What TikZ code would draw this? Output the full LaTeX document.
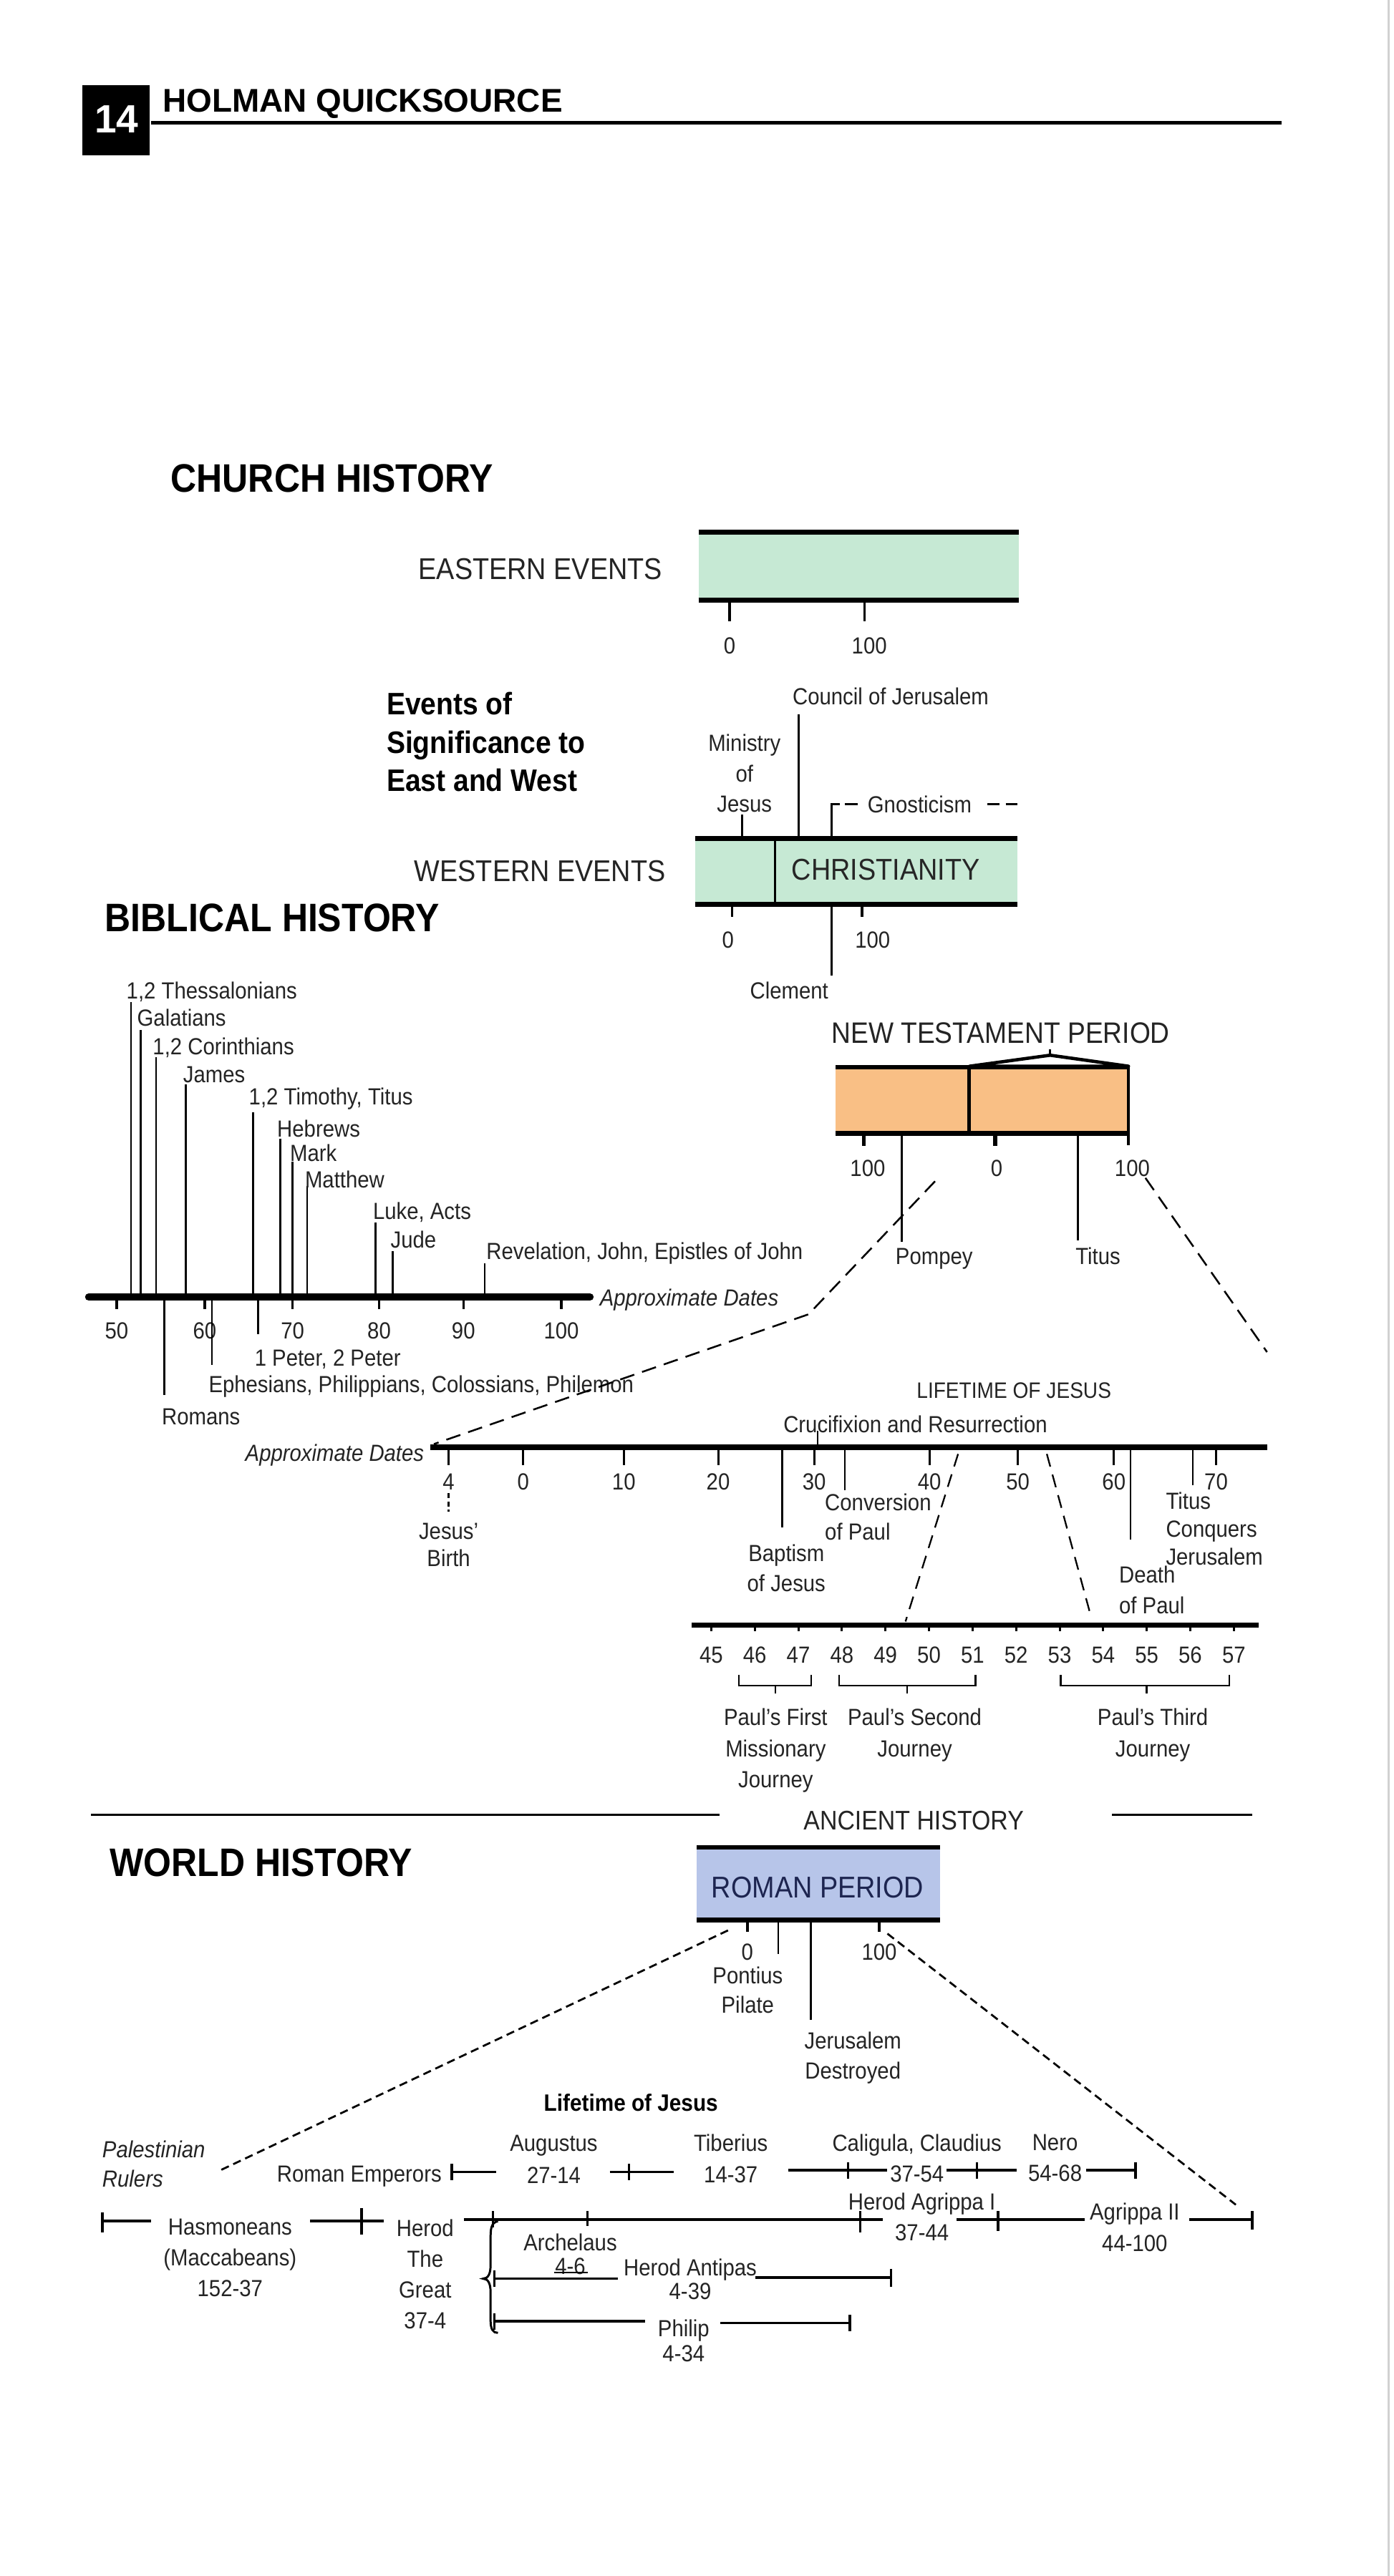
\documentclass[tikz,border=0pt]{standalone}
\usepackage{fontspec}
\setmainfont{Liberation Sans}[FakeStretch=0.9]
\newfontfamily\plainf{Liberation Sans}
\definecolor{tc}{HTML}{242424}
\definecolor{greenfill}{HTML}{C6E9D4}
\definecolor{orangefill}{HTML}{F9BF85}
\definecolor{bluefill}{HTML}{B7C5E9}
\definecolor{navy}{HTML}{1D2550}
\tikzset{
  every node/.style={inner sep=0pt, outer sep=0pt, text=tc},
  sm/.style={font=\fontsize{14.2}{#1}\selectfont},
  sm/.default={18.5},
  smi/.style={font=\fontsize{14.2}{#1}\selectfont\itshape},
  smi/.default={18},
  md/.style={font=\fontsize{18.3}{22}\selectfont},
  hd/.style={font=\fontsize{24.2}{28}\selectfont\bfseries, text=black},
  thin/.style={line width=1.1pt},
  tick/.style={line width=1.5pt},
  bar/.style={line width=3pt},
  zoomdash/.style={line width=1.1pt, dash pattern=on 9pt off 5pt},
  smalldash/.style={line width=1pt, dash pattern=on 8pt off 5pt},
  romandash/.style={line width=1.2pt, dash pattern=on 5pt off 3pt},
}
\begin{document}
\begin{tikzpicture}[x=1pt,y=-1pt]
\useasboundingbox (0,0) rectangle (848,1568);
\fill[white] (0,0) rectangle (848,1568);
\draw[black!18, line width=1pt] (845,0) -- (845,1568);

% ---------- header ----------
\fill[black] (50,52) rectangle (91,94.5);
\node[font=\fontsize{24}{26}\selectfont\plainf\bfseries, text=white, anchor=base] (num) at (71,81) {14};
\node[font=\fontsize{20}{24}\selectfont\plainf\bfseries, text=black, anchor=base west] (title) at (99,68) {HOLMAN QUICKSOURCE};
\draw[line width=2pt] (92,74.7) -- (780,74.7);

% ---------- church history ----------
\node[hd, anchor=base west] (church) at (104,299.5) {CHURCH HISTORY};
\node[md, anchor=base east] (east) at (403,352.5) {EASTERN EVENTS};
\fill[greenfill] (425,324) rectangle (620,365.5);
\draw[bar] (425,324) -- (620,324);
\draw[bar] (425,365.5) -- (620,365.5);
\draw[tick] (444,367) -- (444,378);
\draw[tick] (526,367) -- (526,378);
\node[sm, anchor=base] (e0) at (444,398) {0};
\node[sm, anchor=base] (e100) at (529,398) {100};

\node[font=\fontsize{18.9}{23.3}\selectfont\bfseries, text=black, anchor=north west, align=left] (sig) at (235.3,421.5) {Events of\\Significance to\\East and West};
\node[sm, anchor=base] (council) at (542,429) {Council of Jerusalem};
\draw[thin] (486,435) -- (486,510);
\node[sm, anchor=north, align=center] (ministry) at (453,447) {Ministry\\of\\Jesus};
\draw[thin] (451.5,496) -- (451.5,510);
\draw[thin] (506,510) -- (506,489.5) -- (511,489.5);
\draw[thin] (514,489.5) -- (522,489.5);
\node[sm, anchor=base west] (gnost) at (528,494.5) {Gnosticism};
\draw[thin] (601,489.5) -- (608,489.5);
\draw[thin] (612,489.5) -- (619,489.5);

\node[md, anchor=base east] (west) at (405,536.5) {WESTERN EVENTS};
\fill[greenfill] (423,510.5) rectangle (619,550.5);
\draw[bar] (423,510.5) -- (619,510.5);
\draw[bar] (423,550.5) -- (619,550.5);
\draw[line width=1.3pt] (471.5,510.5) -- (471.5,550.5);
\node[md, anchor=base, text=black!85] (christ) at (539,535.5) {CHRISTIANITY};
\draw[tick] (445.5,552) -- (445.5,558);
\draw[tick] (524.6,552) -- (524.6,558);
\node[sm, anchor=base] (w0) at (443,577) {0};
\node[sm, anchor=base] (w100) at (531,577) {100};
\draw[thin] (506,552) -- (506,594);
\node[sm, anchor=base east] (clement) at (504,608) {Clement};

% ---------- biblical history ----------
\node[hd, anchor=base west] (bib) at (64,567) {BIBLICAL HISTORY};
\draw[line width=4.5pt, line cap=round] (54,789.5) -- (359,789.5);
\foreach \x/\l in {71/50,124.6/60,178/70,230.7/80,282/90,341.6/100} {
  \draw[tick] (\x,790) -- (\x,797);
  \node[sm, anchor=base] at (\x,815) {\l};
}
\foreach \x/\t in {79.8/610,85.5/627,95/643.6,113/660,154/677,170.5/693,178/707,187/722,228.5/744,239/761.6,295/769} {
  \draw[thin] (\x,\t) -- (\x,789.5);
}
\node[sm, anchor=base west] (thess) at (77,608) {1,2 Thessalonians};
\node[sm, anchor=base west] (gal) at (83.5,624.5) {Galatians};
\node[sm, anchor=base west] (cor) at (93,642) {1,2 Corinthians};
\node[sm, anchor=base west] (james) at (111.5,659) {James};
\node[sm, anchor=base west] (tim) at (151.5,672.5) {1,2 Timothy, Titus};
\node[sm, anchor=base west] (heb) at (168.7,692) {Hebrews};
\node[sm, anchor=base west] (mark) at (176.5,707) {Mark};
\node[sm, anchor=base west] (matt) at (185.6,723) {Matthew};
\node[sm, anchor=base west] (luke) at (227,742) {Luke, Acts};
\node[sm, anchor=base west] (jude) at (237.7,759.5) {Jude};
\node[sm, anchor=base west] (rev) at (296,766.5) {Revelation, John, Epistles of John};
\draw[thin] (100,789.5) -- (100,849);
\draw[thin] (129,789.5) -- (129,831);
\draw[thin] (157,789.5) -- (157,812);
\node[sm, anchor=base west] (romans) at (98.5,867) {Romans};
\node[sm, anchor=base west] (eph) at (127,847.5) {Ephesians, Philippians, Colossians, Philemon};
\node[sm, anchor=base west] (peter) at (155,831.5) {1 Peter, 2 Peter};
\node[smi, anchor=base west] (approx1) at (365,795) {Approximate Dates};

% ---------- new testament period ----------
\node[font=\fontsize{18}{22}\selectfont, anchor=base west] (ntp) at (506,635) {NEW TESTAMENT PERIOD};
\fill[orangefill] (508.5,649.5) rectangle (686.7,690);
\draw[line width=2.5pt] (508.5,649.5) -- (686.7,649.5);
\draw[bar] (508.5,690) -- (686.7,690);
\draw[line width=1.8pt] (686.7,648.5) -- (686.7,697);
\draw[line width=2.2pt] (589.8,649.5) -- (589.8,690);
\draw[line width=2pt, fill=white, line join=round] (590,649) -- (639,642.3) -- (686.7,649) -- cycle;
\draw[line width=1.3pt] (639,642.3) -- (639,638.5);
\draw[line width=2.5pt] (525.6,690) -- (525.6,697.7);
\draw[line width=2.5pt] (605.5,690) -- (605.5,697.7);
\node[sm, anchor=base] (nt100a) at (528,716) {100};
\node[sm, anchor=base] (nt0) at (606.5,716) {0};
\node[sm, anchor=base] (nt100b) at (689,716) {100};
\draw[thin] (548.7,690) -- (548.7,756);
\node[sm, anchor=base west] (pompey) at (545,769.5) {Pompey};
\draw[thin] (656,690) -- (656,755);
\node[sm, anchor=base west] (titus) at (654.5,769.5) {Titus};
\draw[zoomdash] (569,719) -- (492,800) -- (264,879);
\draw[zoomdash] (697,717) -- (771,823);

% ---------- lifetime of Jesus ----------
\node[font=\fontsize{13.6}{16}\selectfont, anchor=base] (ljesus) at (617,851) {LIFETIME OF JESUS};
\node[sm, anchor=base] (cruc) at (557,872) {Crucifixion and Resurrection};
\draw[thin] (497.6,871) -- (497.6,881);
\draw[line width=3.5pt] (262,881) -- (771,881);
\foreach \x/\l in {273/4,318.4/0,379.6/10,437/20,495.4/30,565.6/40,619.4/50,677.8/60,740/70} {
  \draw[line width=1.3pt] (\x,881) -- (\x,892);
  \node[sm, anchor=base] at (\x,907) {\l};
}
\draw[line width=1pt, dash pattern=on 3pt off 2pt] (273,909) -- (273,920);
\node[smi, anchor=base east] (approx2) at (258,889.5) {Approximate Dates};
\node[sm=16.5, anchor=north, align=center] (birth) at (273,927) {Jesus'\\Birth};
\draw[thin] (476,881) -- (476,929.6);
\node[sm, anchor=north, align=center] (baptism) at (478.5,940) {Baptism\\of Jesus};
\draw[thin] (514,881) -- (514,907);
\node[sm=18, anchor=north west, align=left] (conv) at (502,909) {Conversion\\of Paul};
\draw[thin] (688,881) -- (688,937);
\node[sm=19, anchor=north west, align=left] (death) at (681,953) {Death\\of Paul};
\draw[thin] (725.8,881) -- (725.8,904);
\node[sm=17, anchor=north west, align=left] (conquer) at (709.5,908.5) {Titus\\Conquers\\Jerusalem};
\draw[smalldash] (583,885) -- (551,987);
\draw[smalldash] (637,885) -- (663.6,983);

% ---------- Paul axis ----------
\draw[bar] (421,989) -- (766,989);
\foreach \i in {0,...,12} {
  \pgfmathsetmacro{\xx}{432.8+26.5*\i}
  \pgfmathtruncatemacro{\yr}{45+\i}
  \draw[line width=1.3pt] (\xx,989) -- (\xx,993);
  \node[sm, anchor=base] at (\xx,1012.5) {\yr};
}
\draw[thin] (449.7,1019.6) -- (449.7,1026) -- (493.6,1026) -- (493.6,1019.6);
\draw[thin] (471.8,1026) -- (471.8,1031);
\draw[thin] (510.7,1019.6) -- (510.7,1026) -- (593.5,1026) -- (593.5,1019.6);
\draw[thin] (552,1026) -- (552,1031);
\draw[thin] (645.4,1019.6) -- (645.4,1026) -- (748,1026) -- (748,1019.6);
\draw[thin] (697.8,1026) -- (697.8,1031);
\node[sm=19, anchor=north, align=center] (first) at (472,1040) {Paul's First\\Missionary\\Journey};
\node[sm=19, anchor=north, align=center] (second) at (556.6,1040) {Paul's Second\\Journey};
\node[sm=19, anchor=north, align=center] (third) at (701.5,1040) {Paul's Third\\Journey};

% ---------- world history ----------
\node[font=\fontsize{16.4}{20}\selectfont, anchor=base] (ancient) at (556,1114) {ANCIENT HISTORY};
\draw[line width=1.5pt] (55.4,1104.6) -- (438,1104.6);
\draw[line width=1.5pt] (676.8,1104.6) -- (762,1104.6);
\node[hd, anchor=base west] (world) at (67,1142) {WORLD HISTORY};
\fill[bluefill] (424,1124.5) rectangle (572,1168.5);
\draw[line width=2.5pt] (424,1124.5) -- (572,1124.5);
\draw[bar] (424,1168.5) -- (572,1168.5);
\node[md, anchor=base, text=navy] (roman) at (497.5,1155) {ROMAN PERIOD};
\draw[line width=1.8pt] (454.7,1168.5) -- (454.7,1176);
\draw[line width=1.8pt] (535,1168.5) -- (535,1176);
\draw[thin] (473.6,1168.5) -- (473.6,1189.6);
\draw[thin] (493.5,1168.5) -- (493.5,1229.5);
\node[sm, anchor=base] (r0) at (454.7,1193) {0};
\node[sm, anchor=base] (r100) at (535,1193) {100};
\node[sm=18, anchor=north, align=center] (pilate) at (455,1197) {Pontius\\Pilate};
\node[sm=18, anchor=north, align=center] (jdest) at (519,1237) {Jerusalem\\Destroyed};
\draw[romandash] (443,1175) -- (132,1322);
\draw[romandash] (540,1177) -- (752,1342);

\node[font=\fontsize{14.4}{17}\selectfont\bfseries, text=black, anchor=base west] (lifetime) at (331,1285) {Lifetime of Jesus};
\node[smi=18, anchor=north west, align=left] (pal) at (62.3,1303) {Palestinian\\Rulers};
\node[sm, anchor=base east] (emp) at (268.7,1328) {Roman Emperors};

% emperors row
\draw[line width=1.6pt] (275,1317) -- (275,1327);
\draw[line width=1.6pt] (275,1322) -- (302,1322);
\node[sm=19.5, anchor=north, align=center] (aug) at (337,1299.6) {Augustus\\27-14};
\draw[line width=1.6pt] (371,1322) -- (410,1322);
\draw[line width=1.3pt] (382.6,1317) -- (382.6,1327);
\node[sm=19.5, anchor=north, align=center] (tib) at (444.7,1299) {Tiberius\\14-37};
\draw[line width=1.6pt] (479.7,1321) -- (540,1321);
\draw[line width=1.3pt] (516,1316) -- (516,1326);
\node[sm=19, anchor=north, align=center] (cal) at (558,1299) {Caligula, Claudius\\37-54};
\draw[line width=1.6pt] (576,1321) -- (618.5,1321);
\draw[line width=1.3pt] (594.5,1316) -- (594.5,1326);
\node[sm=19, anchor=north, align=center] (nero) at (642,1299) {Nero\\54-68};
\draw[line width=1.6pt] (661,1321) -- (691,1321);
\draw[line width=1.6pt] (691,1316) -- (691,1326);

% palestinian row
\draw[line width=1.6pt] (62.3,1346.6) -- (62.3,1358.7);
\draw[line width=1.6pt] (62.3,1352) -- (92,1352);
\node[sm=18.7, anchor=north, align=center] (hasm) at (140,1350.5) {Hasmoneans\\(Maccabeans)\\152-37};
\draw[line width=1.6pt] (188.7,1352) -- (233.6,1352);
\draw[line width=1.6pt] (220,1344) -- (220,1360);
\node[sm=18.7, anchor=north, align=center] (herod) at (258.7,1351) {Herod\\The\\Great\\37-4};
\draw[line width=1.6pt] (282.4,1351) -- (537,1351);
\draw[line width=1.2pt] (299.8,1346) -- (299.8,1356);
\draw[line width=1.2pt] (357.4,1346) -- (357.4,1355);
\draw[line width=1.4pt] (523.5,1346) -- (523.5,1359);
\node[sm=18.5, anchor=north, align=center] (agr1) at (561,1335) {Herod Agrippa I\\37-44};
\draw[line width=1.6pt] (582,1351) -- (660,1351);
\draw[line width=1.4pt] (607.3,1346) -- (607.3,1358);
\node[sm=19, anchor=north, align=center] (agr2) at (690.5,1341) {Agrippa II\\44-100};
\draw[line width=1.6pt] (723.6,1351) -- (762,1351);
\draw[line width=1.6pt] (762,1346) -- (762,1357);

% brace and sons of Herod
\draw[line width=1.3pt] (303,1352) .. controls (298.5,1353) and (298.5,1357) .. (298.5,1364) -- (298.5,1379) .. controls (298.5,1384) and (297,1387) .. (294,1387) .. controls (297,1387) and (298.5,1390) .. (298.5,1395) -- (298.5,1412) .. controls (298.5,1418) and (300,1420) .. (303,1420);
\node[sm=14.5, anchor=north, align=center] (arch) at (347,1359.5) {Archelaus\\4-6};
\draw[thin] (337,1383.3) -- (357.5,1383.3);
\draw[line width=1.3pt] (301,1382) -- (301,1392);
\draw[line width=1.6pt] (301,1387) -- (376,1387);
\node[sm=14.5, anchor=north, align=center] (antipas) at (420,1375) {Herod Antipas\\4-39};
\draw[line width=1.6pt] (459.7,1386.3) -- (542.2,1386.3);
\draw[line width=1.6pt] (542.2,1381) -- (542.2,1392);
\draw[line width=1.3pt] (301,1408) -- (301,1418);
\draw[line width=1.6pt] (301,1413) -- (392.6,1413);
\node[sm=15, anchor=north, align=center] (philip) at (416,1412) {Philip\\4-34};
\draw[line width=1.6pt] (438.5,1414) -- (517,1414);
\draw[line width=1.6pt] (517,1409) -- (517,1419);
\end{tikzpicture}
\end{document}
